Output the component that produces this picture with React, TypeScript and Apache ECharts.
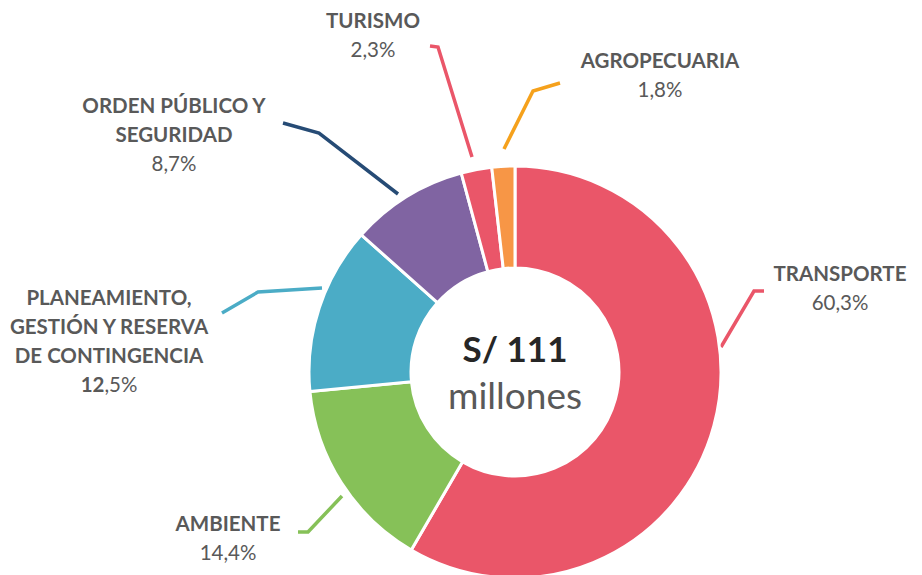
import React, { useEffect, useRef } from "react";
import * as echarts from "echarts";

const categories = [
  "TRANSPORTE",
  "AMBIENTE",
  "PLANEAMIENTO,\nGESTIÓN Y RESERVA\nDE CONTINGENCIA",
  "ORDEN PÚBLICO Y\nSEGURIDAD",
  "TURISMO",
  "AGROPECUARIA",
];
// shares printed in the labels
const labelShares = [60.3, 14.4, 12.5, 8.7, 2.3, 1.8];
// shares as drawn by the slices
const sliceShares = [58.4, 15.1, 13.1, 9.2, 2.4, 1.8];
const sliceColors = ["#EA5669", "#86C158", "#4BACC6", "#8064A2", "#EA5669", "#F79646"];
const lineColors = ["#EA5669", "#86C158", "#4BACC6", "#264B75", "#EA5669", "#F5A11C"];
const totalText = "S/ 111";
const unitText = "millones";

// label anchor (centre) positions and leader-line paths
const labelPos = [
  [840, 287],
  [228, 537],
  [109, 340],
  [174, 134],
  [373, 34],
  [660, 74],
];
const leaderLines = [
  [[721, 347], [754, 291], [764, 291]],
  [[342, 496], [308, 532], [298, 532]],
  [[322, 288], [258, 292], [222, 313]],
  [[398, 194], [319, 133], [283, 123]],
  [[472, 157], [438, 47], [430, 46]],
  [[504, 149], [533, 91], [560, 83]],
];

const FONT = "Lato, 'Open Sans', sans-serif";

export default function App() {
  const ref = useRef<HTMLDivElement>(null);
  useEffect(() => {
    if (!ref.current) return;
    const chart = echarts.init(ref.current, undefined, { renderer: "svg" });
    const data = categories.map((name, i) => ({
      name,
      value: sliceShares[i],
      itemStyle: { color: sliceColors[i] },
      labelLine: { show: true, lineStyle: { color: lineColors[i], width: 3.5 } },
    }));
    chart.setOption({
      animation: false,
      backgroundColor: "#ffffff",
      series: [
        {
          type: "pie",
          center: [515, 372],
          radius: [104, 206],
          startAngle: 90,
          clockwise: true,
          avoidLabelOverlap: false,
          itemStyle: { borderColor: "#ffffff", borderWidth: 3 },
          label: {
            show: true,
            fontFamily: FONT,
            color: "#595959",
            lineHeight: 29,
            formatter: (p: any) => {
              const s = labelShares[p.dataIndex].toFixed(1).replace(".", ",");
              const name = p.name
                .split("\n")
                .map((l: string) => `{b|${l}}`)
                .join("\n");
              if (p.dataIndex === 2) {
                const [ip, dp] = s.split(",");
                return `${name}\n{pb|${ip}}{p|,${dp}%}`;
              }
              return `${name}\n{p|${s}%}`;
            },
            rich: {
              b: { fontFamily: FONT, fontWeight: "bold", fontSize: 20.5, color: "#595959", lineHeight: 29 },
              p: { fontFamily: FONT, fontSize: 20.5, color: "#595959", lineHeight: 29 },
              pb: { fontFamily: FONT, fontWeight: "bold", fontSize: 20.5, color: "#595959", lineHeight: 29 },
            },
          },
          labelLine: { show: true, smooth: false, lineStyle: { width: 3.5 } },
          labelLayout: (params: any) => {
            const i = params.dataIndex;
            return {
              x: labelPos[i][0],
              y: labelPos[i][1],
              align: "center",
              verticalAlign: "middle",
              labelLinePoints: leaderLines[i],
            };
          },
          data,
        },
      ],
      graphic: [
        {
          type: "text",
          x: 515,
          y: 348,
          style: {
            text: totalText,
            fontFamily: FONT,
            fontWeight: "bold",
            fontSize: 35,
            fill: "#262626",
            align: "center",
            verticalAlign: "middle",
          },
        },
        {
          type: "text",
          x: 515,
          y: 394,
          style: {
            text: unitText,
            fontFamily: FONT,
            fontSize: 37,
            fill: "#595959",
            align: "center",
            verticalAlign: "middle",
          },
        },
      ],
    });
    return () => chart.dispose();
  }, []);
  return (
    <div
      ref={ref}
      style={{ position: "absolute", left: 0, top: 0, width: 922, height: 575 }}
    />
  );
}
